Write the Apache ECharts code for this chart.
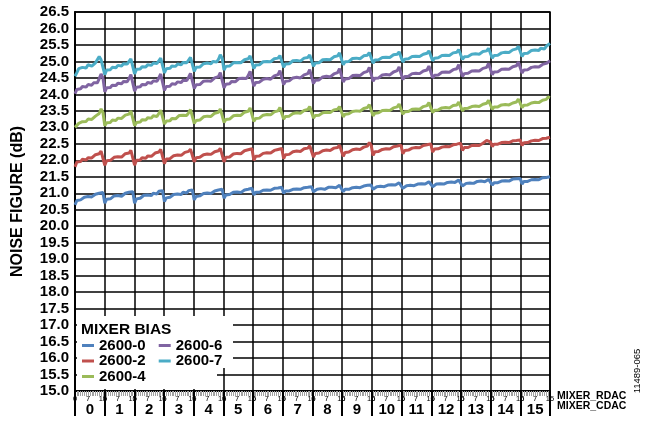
<!DOCTYPE html>
<html><head><meta charset="utf-8">
<script src="https://cdn.jsdelivr.net/npm/echarts/dist/echarts.min.js"></script>
<style>html,body{margin:0;padding:0;background:#fff}#c{width:657px;height:421px}</style>
</head><body><div id="c"></div>
<script>
const FONT = '"Liberation Sans", Arial, sans-serif';
const rdacLabels = ['0','1','2','3','4','5','6','7','8','9','10','11','12','13','14','15'];
const cdacLabels = ['0','','','','','','','7','','','','','','','','15'];
const yTicks = {min: 15, max: 26.5, step: 0.5};
const seriesNames = ['2600-0','2600-2','2600-4','2600-6','2600-7'];
const seriesColors = ['#4f81bd','#c0504d','#9bbb59','#8064a2','#4bacc6'];

// Noise figure (dB), one row of 16 CDAC values per RDAC setting
const nf2600_0 = [
[20.65,20.78,20.82,20.80,20.86,20.88,20.84,20.90,20.93,20.89,20.95,20.97,20.93,21.00,21.06,21.02],
[20.70,20.82,20.86,20.83,20.89,20.92,20.87,20.93,20.96,20.91,20.97,21.00,20.96,21.03,21.08,21.05],
[20.70,20.83,20.87,20.85,20.90,20.94,20.89,20.95,20.98,20.93,21.00,21.03,20.98,21.06,21.10,21.08],
[20.75,20.86,20.90,20.88,20.93,20.96,20.92,20.98,21.01,20.96,21.03,21.05,21.01,21.08,21.12,21.10],
[20.80,20.90,20.94,20.92,20.97,20.99,20.95,21.01,21.03,20.99,21.05,21.07,21.04,21.10,21.14,21.12],
[20.85,20.95,20.98,20.96,21.00,21.03,20.99,21.04,21.06,21.02,21.08,21.10,21.07,21.12,21.17,21.15],
[20.95,21.03,21.05,21.03,21.07,21.09,21.06,21.10,21.12,21.09,21.13,21.15,21.12,21.16,21.20,21.18],
[21.00,21.07,21.09,21.07,21.10,21.12,21.09,21.13,21.15,21.12,21.16,21.17,21.14,21.18,21.22,21.20],
[21.05,21.10,21.12,21.11,21.14,21.15,21.12,21.16,21.18,21.15,21.18,21.20,21.17,21.21,21.24,21.22],
[21.05,21.12,21.14,21.12,21.16,21.17,21.14,21.18,21.20,21.17,21.21,21.22,21.20,21.24,21.27,21.25],
[21.12,21.18,21.20,21.18,21.21,21.23,21.20,21.24,21.25,21.22,21.26,21.28,21.25,21.28,21.32,21.30],
[21.15,21.21,21.23,21.21,21.24,21.26,21.23,21.27,21.28,21.25,21.29,21.31,21.28,21.32,21.35,21.33],
[21.20,21.26,21.28,21.26,21.29,21.31,21.28,21.32,21.33,21.30,21.34,21.36,21.33,21.37,21.40,21.38],
[21.22,21.28,21.30,21.28,21.31,21.33,21.30,21.34,21.36,21.33,21.37,21.38,21.35,21.39,21.42,21.40],
[21.25,21.32,21.34,21.32,21.36,21.37,21.34,21.38,21.40,21.37,21.41,21.43,21.40,21.44,21.48,21.45],
[21.28,21.36,21.38,21.36,21.40,21.41,21.38,21.42,21.44,21.41,21.45,21.47,21.44,21.48,21.52,21.50]
];
const nf2600_2 = [
[21.80,21.95,21.99,21.96,22.03,22.06,22.01,22.08,22.12,22.07,22.13,22.17,22.12,22.20,22.28,22.22],
[21.85,21.99,22.03,22.00,22.06,22.09,22.05,22.11,22.15,22.10,22.16,22.20,22.15,22.22,22.30,22.25],
[21.85,22.00,22.04,22.01,22.08,22.11,22.06,22.13,22.17,22.12,22.18,22.22,22.17,22.25,22.33,22.28],
[21.90,22.04,22.08,22.05,22.11,22.14,22.10,22.16,22.20,22.15,22.21,22.24,22.20,22.27,22.34,22.30],
[21.95,22.08,22.12,22.09,22.15,22.17,22.13,22.19,22.22,22.18,22.24,22.26,22.22,22.29,22.36,22.32],
[21.95,22.09,22.13,22.10,22.16,22.19,22.15,22.21,22.25,22.20,22.26,22.29,22.25,22.32,22.38,22.35],
[22.00,22.12,22.16,22.13,22.19,22.21,22.17,22.23,22.26,22.22,22.28,22.30,22.26,22.33,22.39,22.36],
[22.05,22.17,22.21,22.18,22.23,22.26,22.22,22.28,22.31,22.27,22.32,22.35,22.31,22.37,22.44,22.40],
[22.10,22.21,22.25,22.22,22.27,22.29,22.25,22.31,22.33,22.30,22.35,22.37,22.33,22.39,22.46,22.42],
[22.12,22.24,22.27,22.25,22.30,22.32,22.28,22.34,22.36,22.33,22.38,22.40,22.36,22.43,22.54,22.46],
[22.15,22.26,22.29,22.27,22.31,22.33,22.30,22.35,22.37,22.34,22.39,22.41,22.38,22.43,22.49,22.46],
[22.20,22.30,22.33,22.31,22.35,22.37,22.34,22.39,22.41,22.38,22.43,22.45,22.42,22.47,22.53,22.50],
[22.25,22.34,22.37,22.35,22.39,22.40,22.37,22.42,22.44,22.41,22.45,22.47,22.44,22.49,22.55,22.52],
[22.30,22.39,22.41,22.39,22.43,22.45,22.42,22.46,22.48,22.45,22.50,22.52,22.49,22.60,22.66,22.56],
[22.42,22.49,22.51,22.49,22.53,22.54,22.51,22.55,22.57,22.54,22.58,22.59,22.57,22.60,22.65,22.62],
[22.45,22.53,22.56,22.54,22.58,22.59,22.56,22.61,22.63,22.60,22.64,22.66,22.63,22.67,22.72,22.70]
];
const nf2600_4 = [
[23.00,23.06,23.12,23.10,23.17,23.22,23.18,23.25,23.29,23.24,23.30,23.34,23.30,23.42,23.56,23.45],
[23.05,23.14,23.18,23.15,23.22,23.26,23.21,23.28,23.32,23.27,23.33,23.37,23.32,23.40,23.50,23.46],
[23.05,23.15,23.19,23.16,23.23,23.27,23.22,23.29,23.33,23.28,23.35,23.38,23.33,23.42,23.52,23.48],
[23.10,23.19,23.23,23.20,23.27,23.30,23.26,23.32,23.36,23.31,23.37,23.41,23.36,23.44,23.54,23.50],
[23.12,23.21,23.25,23.22,23.28,23.32,23.27,23.34,23.38,23.33,23.39,23.43,23.38,23.46,23.56,23.52],
[23.15,23.24,23.28,23.25,23.31,23.35,23.30,23.37,23.41,23.36,23.42,23.46,23.41,23.49,23.59,23.55],
[23.18,23.27,23.31,23.28,23.34,23.37,23.33,23.39,23.43,23.38,23.44,23.47,23.43,23.50,23.60,23.56],
[23.25,23.33,23.36,23.34,23.39,23.42,23.38,23.44,23.47,23.43,23.48,23.51,23.47,23.54,23.63,23.60],
[23.28,23.36,23.39,23.37,23.42,23.44,23.40,23.46,23.49,23.45,23.50,23.53,23.49,23.55,23.63,23.60],
[23.32,23.40,23.43,23.41,23.46,23.48,23.45,23.50,23.53,23.49,23.54,23.57,23.53,23.60,23.69,23.66],
[23.35,23.43,23.46,23.44,23.48,23.51,23.47,23.52,23.55,23.51,23.56,23.59,23.55,23.62,23.71,23.68],
[23.40,23.47,23.50,23.48,23.52,23.55,23.51,23.56,23.59,23.55,23.60,23.63,23.59,23.66,23.75,23.72],
[23.45,23.52,23.55,23.53,23.57,23.59,23.56,23.60,23.63,23.59,23.64,23.66,23.62,23.68,23.77,23.74],
[23.50,23.57,23.60,23.58,23.61,23.63,23.60,23.65,23.67,23.63,23.68,23.70,23.67,23.73,23.82,23.78],
[23.55,23.62,23.64,23.62,23.66,23.68,23.65,23.69,23.71,23.68,23.72,23.74,23.71,23.77,23.86,23.82],
[23.60,23.67,23.70,23.68,23.72,23.74,23.71,23.76,23.78,23.75,23.79,23.82,23.79,23.85,23.92,23.90]
];
const nf2600_6 = [
[24.02,24.15,24.20,24.17,24.24,24.28,24.22,24.30,24.34,24.28,24.35,24.40,24.35,24.48,24.62,24.50],
[24.08,24.20,24.25,24.21,24.28,24.32,24.27,24.34,24.38,24.32,24.39,24.43,24.38,24.48,24.60,24.54],
[24.10,24.22,24.27,24.23,24.30,24.34,24.29,24.36,24.40,24.34,24.41,24.45,24.40,24.50,24.62,24.56],
[24.12,24.24,24.29,24.25,24.32,24.36,24.31,24.38,24.42,24.36,24.43,24.47,24.42,24.52,24.64,24.58],
[24.18,24.29,24.33,24.30,24.36,24.40,24.35,24.41,24.45,24.40,24.46,24.50,24.45,24.54,24.66,24.60],
[24.20,24.31,24.36,24.32,24.39,24.43,24.38,24.44,24.48,24.43,24.49,24.53,24.48,24.57,24.70,24.64],
[24.25,24.36,24.40,24.37,24.43,24.46,24.42,24.48,24.51,24.46,24.52,24.56,24.51,24.60,24.72,24.66],
[24.30,24.40,24.44,24.41,24.47,24.50,24.46,24.52,24.55,24.50,24.56,24.59,24.55,24.63,24.75,24.70],
[24.33,24.43,24.47,24.44,24.50,24.53,24.49,24.55,24.58,24.53,24.59,24.62,24.58,24.66,24.78,24.72],
[24.38,24.47,24.51,24.48,24.54,24.57,24.53,24.58,24.62,24.57,24.63,24.66,24.62,24.70,24.82,24.76],
[24.40,24.49,24.53,24.50,24.56,24.59,24.55,24.60,24.64,24.59,24.65,24.68,24.64,24.72,24.83,24.78],
[24.45,24.54,24.57,24.55,24.60,24.63,24.59,24.64,24.67,24.63,24.68,24.71,24.67,24.74,24.86,24.80],
[24.50,24.58,24.62,24.59,24.64,24.67,24.63,24.68,24.71,24.67,24.72,24.75,24.71,24.78,24.90,24.84],
[24.55,24.63,24.66,24.64,24.69,24.71,24.67,24.72,24.75,24.71,24.76,24.79,24.75,24.82,24.94,24.88],
[24.60,24.68,24.71,24.69,24.74,24.76,24.72,24.77,24.80,24.76,24.81,24.84,24.80,24.87,24.98,24.94],
[24.65,24.74,24.77,24.75,24.80,24.82,24.78,24.84,24.87,24.83,24.88,24.91,24.88,24.94,25.00,25.02]
];
const nf2600_7 = [
[24.55,24.66,24.78,24.74,24.82,24.85,24.80,24.90,24.93,24.86,24.92,24.96,24.90,25.15,25.05,25.00],
[24.60,24.74,24.79,24.75,24.82,24.86,24.81,24.88,24.92,24.86,24.93,24.97,24.92,25.00,25.08,25.04],
[24.62,24.76,24.81,24.77,24.84,24.88,24.83,24.90,24.94,24.88,24.95,24.99,24.94,25.02,25.10,25.06],
[24.65,24.78,24.83,24.79,24.86,24.90,24.85,24.92,24.96,24.90,24.97,25.01,24.96,25.04,25.12,25.08],
[24.70,24.82,24.86,24.83,24.89,24.93,24.88,24.95,24.99,24.93,25.00,25.04,24.98,25.06,25.20,25.10],
[24.74,24.85,24.90,24.86,24.92,24.96,24.91,24.97,25.01,24.96,25.02,25.05,25.00,25.08,25.17,25.12],
[24.78,24.89,24.93,24.90,24.96,24.99,24.95,25.00,25.04,24.99,25.05,25.08,25.03,25.10,25.18,25.14],
[24.82,24.92,24.96,24.93,24.99,25.02,24.98,25.03,25.06,25.01,25.07,25.10,25.05,25.12,25.20,25.16],
[24.85,24.95,24.99,24.96,25.02,25.05,25.01,25.06,25.10,25.05,25.11,25.14,25.09,25.17,25.26,25.20],
[24.90,24.99,25.03,25.00,25.06,25.09,25.05,25.10,25.13,25.08,25.14,25.17,25.12,25.19,25.27,25.22],
[24.95,25.04,25.07,25.05,25.10,25.12,25.08,25.13,25.16,25.12,25.17,25.20,25.15,25.22,25.29,25.25],
[24.98,25.07,25.10,25.08,25.12,25.15,25.11,25.16,25.19,25.15,25.20,25.22,25.18,25.25,25.32,25.28],
[25.02,25.10,25.14,25.11,25.16,25.18,25.14,25.19,25.22,25.18,25.23,25.26,25.22,25.28,25.36,25.32],
[25.06,25.14,25.17,25.15,25.19,25.22,25.18,25.23,25.26,25.22,25.27,25.30,25.26,25.32,25.40,25.36],
[25.10,25.18,25.22,25.19,25.24,25.26,25.22,25.28,25.31,25.27,25.32,25.35,25.30,25.38,25.46,25.42],
[25.15,25.24,25.28,25.25,25.30,25.33,25.28,25.35,25.39,25.33,25.40,25.44,25.38,25.46,25.52,25.55]
];
const allSeries = [nf2600_0, nf2600_2, nf2600_4, nf2600_6, nf2600_7];

// one category per (RDAC, CDAC) setting
const settingIndex = [];
rdacLabels.forEach((r, g) => cdacLabels.forEach((c, k) => settingIndex.push(g * cdacLabels.length + k)));

const chart = echarts.init(document.getElementById('c'), null, {renderer: 'canvas'});
const gridLine = {show: true, lineStyle: {color: '#000', width: 1.5}};
const legendText = {fontFamily: FONT, fontWeight: 'bold', fontSize: 15, color: '#000', lineHeight: 15};
function legendRow(top, names) {
  return {show: true, left: 82, top: top, orient: 'horizontal', padding: 0, itemGap: 13,
    itemWidth: 12, itemHeight: 3, icon: 'rect', z: 200, selectedMode: false,
    data: names, textStyle: legendText};
}
chart.setOption({
  animation: false,
  backgroundColor: '#fff',
  grid: {left: 75, right: 107, top: 12, bottom: 30, show: true, borderColor: '#000', borderWidth: 1.5, containLabel: false},
  legend: [
    legendRow(338, [seriesNames[0], seriesNames[3]]),
    legendRow(353.5, [seriesNames[1], seriesNames[4]]),
    legendRow(369, [seriesNames[2]])
  ],
  xAxis: [
    {type: 'category', data: settingIndex, boundaryGap: false, position: 'bottom',
      axisLine: {show: true, onZero: false, lineStyle: {color: '#000', width: 2}},
      axisTick: {show: true, interval: 0, length: 5, lineStyle: {color: '#a0a0a0', width: 1}},
      axisLabel: {show: true, interval: 0, margin: 4, fontSize: 7.5, fontFamily: FONT, color: '#000',
        formatter: (v, i) => cdacLabels[i % cdacLabels.length]},
      splitLine: {show: false}},
    {type: 'value', min: 0, max: rdacLabels.length, interval: 1, position: 'bottom',
      axisLine: {show: false}, axisTick: {show: false}, axisLabel: {show: false},
      splitLine: gridLine},
    {type: 'category', data: rdacLabels, boundaryGap: true, position: 'bottom',
      axisLine: {show: false, onZero: false},
      axisTick: {show: true, interval: 0, length: 25, lineStyle: {color: '#000', width: 2}},
      axisLabel: {show: true, interval: 0, margin: 11, fontSize: 15, fontWeight: 'bold', fontFamily: FONT, color: '#000'},
      splitLine: {show: false}}
  ],
  yAxis: {
    type: 'value', min: yTicks.min, max: yTicks.max, interval: yTicks.step,
    name: 'NOISE FIGURE (dB)', nameLocation: 'middle', nameGap: 49,
    nameTextStyle: {fontFamily: FONT, fontWeight: 'bold', fontSize: 16, color: '#000'},
    axisLine: {show: true, lineStyle: {color: '#000', width: 2}},
    axisTick: {show: false},
    axisLabel: {margin: 6, fontFamily: FONT, fontWeight: 'bold', fontSize: 15, color: '#000',
      formatter: v => v.toFixed(1)},
    splitLine: gridLine
  },
  graphic: [
    {type: 'rect', shape: {x: 77, y: 316, width: 156, height: 52}, style: {fill: '#fff'}, z: 100},
    {type: 'rect', shape: {x: 77, y: 368, width: 140, height: 21}, style: {fill: '#fff'}, z: 100},
    {type: 'text', x: 81, y: 330, z: 150, style: {text: 'MIXER BIAS', fontFamily: FONT, fontWeight: 'bold', fontSize: 15.5, fill: '#000', verticalAlign: 'middle'}},
    {type: 'text', x: 557, y: 396, z: 150, style: {text: 'MIXER_RDAC', fontFamily: FONT, fontWeight: 'bold', fontSize: 10.5, fill: '#000', verticalAlign: 'middle'}},
    {type: 'text', x: 557, y: 406.5, z: 150, style: {text: 'MIXER_CDAC', fontFamily: FONT, fontWeight: 'bold', fontSize: 10.5, fill: '#000', verticalAlign: 'middle'}},
    {type: 'text', x: 637, y: 371, rotation: Math.PI / 2, z: 150, style: {text: '11489-065', fontFamily: FONT, fontSize: 9.5, fill: '#000', align: 'center', verticalAlign: 'middle'}}
  ],
  series: allSeries.map((s, i) => ({
    name: seriesNames[i], type: 'line', xAxisIndex: 0, yAxisIndex: 0,
    data: s.flat(), showSymbol: false, symbol: 'none', smooth: false,
    lineStyle: {color: seriesColors[i], width: 3}, itemStyle: {color: seriesColors[i]}, z: 3
  }))
});
</script>
</body></html>
